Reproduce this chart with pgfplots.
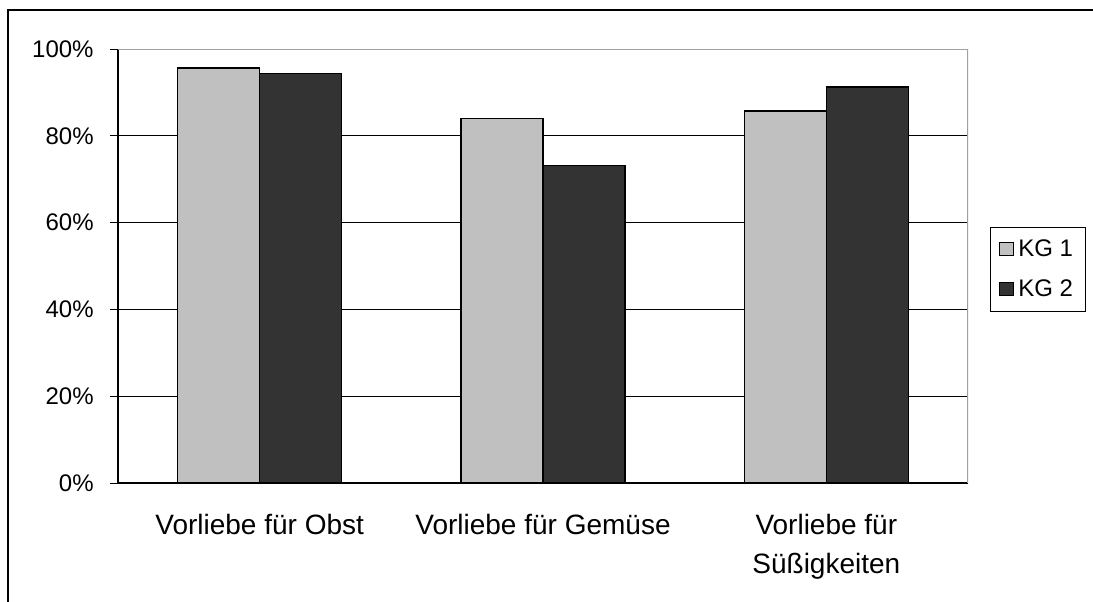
\documentclass[border=0pt]{standalone}
\usepackage{fontspec}
\setmainfont{Liberation Sans}
\usepackage{pgfplots}
\pgfplotsset{compat=1.18}

\definecolor{kgone}{RGB}{192,192,192}
\definecolor{kgtwo}{RGB}{51,51,51}
\definecolor{frame}{RGB}{160,160,160}

\begin{document}
\begin{tikzpicture}
% page = 1093 x 601 px at 2 px per pt
\path[use as bounding box] (-59pt,-59pt) rectangle (487.5pt,241.5pt);
\draw[line width=1pt] (-55pt,-70pt) -- (-55pt,236.5pt) -- (500pt,236.5pt);
\begin{axis}[
    at={(0,0)}, anchor=south west,
    scale only axis,
    width=425pt, height=217pt,
    ybar=0pt, bar width=41pt,
    xmin=-0.5, xmax=2.5,
    ymin=0, ymax=100,
    axis lines=left,
    axis line style={-, line width=0.75pt, black},
    ytick={0,20,40,60,80,100},
    yticklabels={0\%,20\%,40\%,60\%,80\%,100\%},
    xtick={0,1,2},
    xticklabels={Vorliebe für Obst, Vorliebe für Gemüse, {Vorliebe für\\Süßigkeiten}},
    x tick style={draw=none},
    extra x ticks={-0.5,0.5,1.5,2.5},
    extra x tick labels={},
    extra x tick style={major tick length=5pt, tick align=outside,
        tick style={draw=black, line width=0.5pt}},
    y tick style={draw=black, line width=0.5pt},
    major tick length=4pt, tick align=outside,
    ymajorgrids,
    grid style={draw=black, line width=0.5pt},
    yticklabel style={font=\fontsize{12}{14}\selectfont, inner sep=0pt, xshift=-8pt},
    xticklabel style={font=\fontsize{14}{19.5}\selectfont, align=center, yshift=-8pt},
    legend style={at={(rel axis cs:1.0259,0.5899)}, anchor=north west,
        draw=black, line width=0.5pt,
        font=\fontsize{12}{14}\selectfont,
        inner xsep=4pt, inner ysep=4pt, row sep=6pt,
        cells={anchor=west}},
    legend image code/.code={
        \draw[#1, line width=0.5pt] (0pt,-3.3pt) rectangle (7.4pt,3.3pt);},
]
\addplot[fill=kgone, draw=black, line width=0.75pt] coordinates {(0,95.6) (1,84.0) (2,85.7)};
\addplot[fill=kgtwo, draw=black, line width=0.75pt] coordinates {(0,94.4) (1,73.2) (2,91.3)};
\legend{KG 1, KG 2}
\draw[frame, line width=0.75pt] (rel axis cs:0,1) -- (rel axis cs:1,1) -- (rel axis cs:1,0);
\end{axis}
\end{tikzpicture}
\end{document}
